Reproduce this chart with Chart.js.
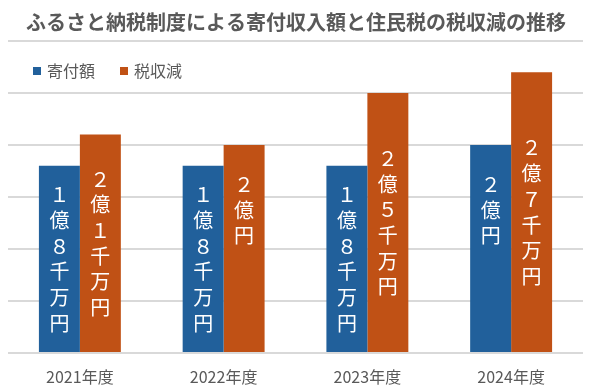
<!DOCTYPE html>
<html>
<head>
<meta charset="utf-8">
<script src="https://cdn.jsdelivr.net/npm/chart.js@4"></script>
<style>
  html, body { margin: 0; padding: 0; background: #fff; }
  #wrap { width: 592px; height: 391px; position: relative; }
</style>
</head>
<body>
<div id="wrap"><canvas id="myChart"></canvas></div>
<script>
const titleText = "ふるさと納税制度による寄付収入額と住民税の税収減の推移";
const years = ["2021年度", "2022年度", "2023年度", "2024年度"];
const seriesNames = ["寄付額", "税収減"];
const donation = [1.8, 1.8, 1.8, 2.0];      // 億円
const taxLoss = [2.1, 2.0, 2.5, 2.7];       // 億円
const donationLabels = ["１億８千万円", "１億８千万円", "１億８千万円", "２億円"];
const taxLossLabels = ["２億１千万円", "２億円", "２億５千万円", "２億７千万円"];

const blue = "#21609B";
const orange = "#C05115";
const textGray = "#595959";
const gridGray = "#D9D9D9";
const jpFont = "'Noto Sans CJK JP', 'Noto Sans', sans-serif";

const ctx = document.getElementById("myChart");

// title + legend drawn by hand, legend sits inside the plot area
const headerPlugin = {
  id: "header",
  afterDraw(chart) {
    const c = chart.ctx;
    c.save();
    c.fillStyle = textGray;
    c.font = "bold 20px " + jpFont;
    c.textAlign = "center";
    c.textBaseline = "middle";
    c.fillText(titleText, chart.width / 2, 22);

    c.font = "16px " + jpFont;
    c.textAlign = "left";
    const colors = [blue, orange];
    let x = 33;
    seriesNames.forEach((name, i) => {
      c.fillStyle = colors[i];
      c.fillRect(x, 67, 8, 8);
      c.fillStyle = textGray;
      c.fillText(name, x + 14, 71);
      x += 14 + c.measureText(name).width + 25;
    });
    c.restore();
  },
};

// vertical (stacked) labels in the middle of each bar
const barLabelPlugin = {
  id: "barLabels",
  afterDatasetsDraw(chart) {
    const c = chart.ctx;
    const allLabels = [donationLabels, taxLossLabels];
    const maxLen = Math.max(...allLabels.flat().map((s) => [...s].length));
    const lh = 25.7;
    c.save();
    c.fillStyle = "#FFFFFF";
    c.font = "20px " + jpFont;
    c.textAlign = "center";
    c.textBaseline = "middle";
    chart.data.datasets.forEach((ds, di) => {
      const meta = chart.getDatasetMeta(di);
      meta.data.forEach((bar, i) => {
        const chars = [...allLabels[di][i]];
        const mid = (bar.y + bar.base) / 2;
        let y = mid - (maxLen * lh) / 2 + lh / 2;
        chars.forEach((ch) => {
          c.fillText(ch, bar.x, y);
          y += lh;
        });
      });
    });
    c.restore();
  },
};

new Chart(ctx, {
  type: "bar",
  data: {
    labels: years,
    datasets: [
      {
        label: seriesNames[0],
        data: donation,
        backgroundColor: blue,
        categoryPercentage: 0.57,
        barPercentage: 1.0,
      },
      {
        label: seriesNames[1],
        data: taxLoss,
        backgroundColor: orange,
        categoryPercentage: 0.57,
        barPercentage: 1.0,
      },
    ],
  },
  options: {
    responsive: true,
    maintainAspectRatio: false,
    animation: false,
    layout: {
      padding: { top: 41, left: 8, right: 9, bottom: 2 },
    },
    plugins: {
      legend: { display: false },
      title: { display: false },
      tooltip: { enabled: false },
    },
    scales: {
      x: {
        grid: { display: false, drawTicks: false },
        border: { display: false },
        ticks: {
          color: textGray,
          font: { family: jpFont, size: 16 },
          padding: 14,
        },
        afterFit(scale) {
          scale.height = 36;
        },
      },
      y: {
        min: 0,
        max: 3,
        ticks: { display: false, stepSize: 0.5 },
        grid: { color: gridGray, lineWidth: 2, drawTicks: false },
        border: { display: false },
      },
    },
  },
  plugins: [headerPlugin, barLabelPlugin],
});
</script>
</body>
</html>
